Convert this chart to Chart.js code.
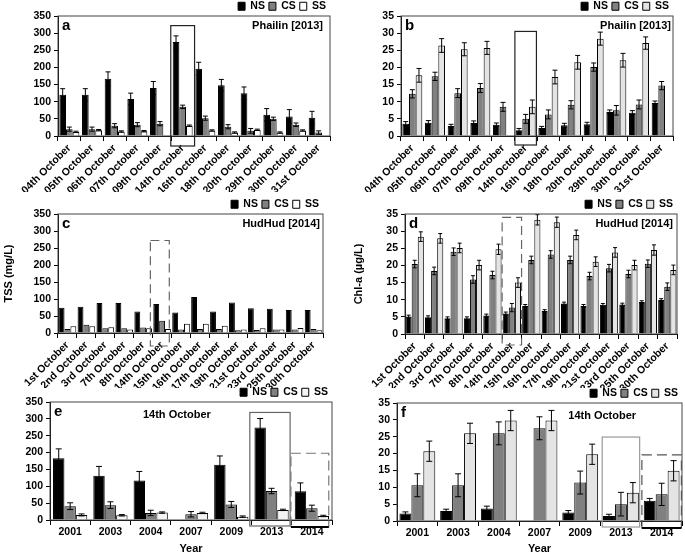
<!DOCTYPE html>
<html>
<head>
<meta charset="utf-8">
<script src="https://cdn.jsdelivr.net/npm/chart.js@4.4.1/dist/chart.umd.min.js"></script>
<style>
  body { margin: 0; background: #fff; width: 685px; height: 556px; position: relative; overflow: hidden; }
  canvas { position: absolute; }
</style>
</head>
<body>
<canvas id="a" width="335" height="195" style="left:0;top:-3px"></canvas>
<canvas id="b" width="345" height="195" style="left:340px;top:-3px"></canvas>
<canvas id="c" width="335" height="193" style="left:0;top:195px"></canvas>
<canvas id="d" width="345" height="193" style="left:340px;top:195px"></canvas>
<canvas id="e" width="340" height="173" style="left:0;top:383px"></canvas>
<canvas id="f" width="345" height="172" style="left:340px;top:384px"></canvas>
<script>
const seriesNames = ["NS", "CS", "SS"]

const phailinDays = ["04th October", "05th October", "06th October", "07th October", "09th October", "14th October",
  "16th October", "18th October", "20th October", "29th October", "30th October", "31st October"]
const hudhudDays = ["1st October", "2nd October", "3rd October", "7th October", "8th October", "14th October", "15th October",
  "16th October", "17th October", "19th October", "21st October", "23rd October", "25th October", "30th October"]
const years = ["2001", "2003", "2004", "2007", "2009", "2013", "2014"]

const tssTicks = [0, 50, 100, 150, 200, 250, 300, 350]
const chlTicks = [0, 5, 10, 15, 20, 25, 30, 35]

// a: TSS, Phailin 2013
const tssPhailinNS = [120, 120, 167, 108, 140, 274, 196, 148, 125, 62, 57, 53]
const tssPhailinNSErr = [18, 18, 20, 17, 19, 18, 19, 17, 18, 18, 20, 19]
const tssPhailinCS = [20, 20, 30, 33, 36, 85, 52, 27, 15, 50, 33, 10]
const tssPhailinCSErr = [6, 6, 6, 6, 6, 5, 6, 6, 7, 5, 5, 5]
const tssPhailinSS = [12, 17, 13, 14, null, 30, 16, 10, 18, 10, 16, null]
const tssPhailinSSErr = [2, 2, 2, 2, null, 2, 2, 2, 2, 2, 2, null]

// b: Chl-a, Phailin 2013
const chlPhailinNS = [3.6, 3.9, 2.9, 3.8, 3.3, 1.7, 2.3, 3.1, 3.4, 7.0, 6.8, 9.6]
const chlPhailinNSErr = [0.6, 0.6, 0.5, 0.6, 0.5, 0.5, 0.5, 0.6, 0.6, 0.6, 0.6, 0.6]
const chlPhailinCS = [12.3, 17.4, 12.5, 14.0, 8.5, 5.0, 6.3, 9.1, 20.1, 7.5, 9.2, 14.7]
const chlPhailinCSErr = [1.2, 1.2, 1.3, 1.3, 1.3, 1.3, 1.3, 1.2, 1.2, 1.4, 1.3, 1.2]
const chlPhailinSS = [17.7, 26.4, 25.3, 25.7, null, 8.5, 17.2, 21.5, 28.4, 22.1, 27.1, null]
const chlPhailinSSErr = [2.0, 2.0, 1.9, 1.9, null, 2.0, 2.0, 2.0, 1.9, 2.0, 1.8, null]

// c: TSS, HudHud 2014
const tssHudhudNS = [74, 77, 88, 88, 63, 85, 60, 106, 63, 90, 73, 71, 68, 68]
const tssHudhudCS = [12, 24, 14, 14, 16, 36, 10, 12, 12, 8, 9, 10, 10, 12]
const tssHudhudSS = [20, 20, 17, 10, 14, 12, 27, 27, 21, 10, 14, 10, 15, 8]

// d: Chl-a, HudHud 2014
const chlHudhudNS = [5.1, 4.9, 4.6, 4.6, 5.4, 6.0, 8.2, 6.7, 8.9, 8.2, 8.5, 8.6, 9.3, 9.9]
const chlHudhudNSErr = [0.4, 0.4, 0.4, 0.4, 0.4, 0.4, 0.4, 0.4, 0.4, 0.4, 0.4, 0.4, 0.4, 0.4]
const chlHudhudCS = [20.4, 18.4, 24.0, 15.9, 17.2, 7.7, 21.6, 23.2, 21.6, 16.9, 19.2, 17.5, 20.5, 13.8]
const chlHudhudCSErr = [1.1, 1.1, 1.1, 1.1, 1.1, 1.2, 1.1, 1.1, 1.1, 1.1, 1.1, 1.1, 1.1, 1.1]
const chlHudhudSS = [28.4, 27.9, 25.1, 20.1, 24.7, 15.0, 33.3, 32.6, 28.9, 21.1, 23.8, 20.1, 24.5, 18.7]
const chlHudhudSSErr = [1.4, 1.4, 1.4, 1.4, 1.5, 1.4, 1.5, 1.5, 1.4, 1.4, 1.4, 1.4, 1.5, 1.4]

// e: TSS on 14th October by year
const tssYearNS = [183, 131, 117, null, 164, 274, 85]
const tssYearNSErr = [28, 28, 27, null, 26, 27, 25]
const tssYearCS = [41, 44, 21, 17, 46, 86, 35]
const tssYearCSErr = [10, 10, 8, 8, 9, 8, 9]
const tssYearSS = [15, 14, 22, 21, 10, 30, 12]
const tssYearSSErr = [3, 2, 2, 2, 2, 2, 2]

// f: Chl-a on 14th October by year
const chlYearNS = [2.2, 3.0, 3.7, null, 2.5, 1.5, 6.0]
const chlYearNSErr = [0.5, 0.5, 0.7, null, 0.6, 0.5, 0.7]
const chlYearCS = [10.6, 10.6, 26.0, 27.5, 11.4, 5.0, 7.9]
const chlYearCSErr = [3.4, 3.4, 3.4, 3.4, 3.4, 3.5, 3.3]
const chlYearSS = [20.7, 26.0, 29.8, 29.8, 19.8, 8.4, 14.9]
const chlYearSSErr = [3, 3, 3, 3, 3, 3, 3]

const FONT = "'Liberation Sans', Arial, sans-serif"

// error bars, plot frame, highlight boxes, panel letter and storm note
const extras = {
  id: "extras",
  afterDatasetsDraw(chart, args, opts) {
    const { ctx, chartArea: area, scales: { x, y } } = chart
    ctx.save()
    chart.data.datasets.forEach((ds, i) => {
      if (!ds.err) return
      chart.getDatasetMeta(i).data.forEach((bar, j) => {
        const v = ds.data[j], e = ds.err[j]
        if (v == null || e == null) return
        const top = y.getPixelForValue(v + e)
        const bot = y.getPixelForValue(Math.max(v - e, 0))
        const cap = opts.cap
        ctx.strokeStyle = "#000"
        ctx.lineWidth = 1
        ctx.beginPath()
        ctx.moveTo(bar.x, top); ctx.lineTo(bar.x, bot)
        ctx.moveTo(bar.x - cap, top); ctx.lineTo(bar.x + cap, top)
        ctx.moveTo(bar.x - cap, bot); ctx.lineTo(bar.x + cap, bot)
        ctx.stroke()
      })
    })

    ctx.strokeStyle = "#444"
    ctx.lineWidth = 1
    ctx.strokeRect(area.left, area.top, area.width, area.height)

    const band = (x.right - x.left) / chart.data.labels.length
    ;(boxesById[chart.canvas.id] || []).forEach((b) => {
      const cx = x.getPixelForValue(b.index) + (b.nudge || 0) * band
      const l = cx - band * b.span / 2, r = cx + band * b.span / 2
      const t = y.getPixelForValue(b.top), bt = y.bottom + b.below
      ctx.strokeStyle = b.color
      ctx.lineWidth = 1.2
      ctx.setLineDash(b.dash || [])
      ctx.strokeRect(l, t, r - l, bt - t)
      ctx.setLineDash([])
      if (b.base) {
        ctx.strokeStyle = b.base
        ctx.lineWidth = 2
        ctx.beginPath(); ctx.moveTo(l, bt); ctx.lineTo(r, bt); ctx.stroke()
      }
    })

    ctx.fillStyle = "#000"
    ctx.textBaseline = "middle"
    ctx.font = `bold 15px ${FONT}`
    ctx.textAlign = "left"
    ctx.fillText(opts.letter, area.left + 4, area.top + 10)
    ctx.font = `bold 11px ${FONT}`
    if (opts.noteAt != null) {
      ctx.textAlign = "center"
      ctx.fillText(opts.note, area.left + area.width * opts.noteAt, area.top + 13)
    } else {
      ctx.textAlign = "right"
      ctx.fillText(opts.note, area.right - opts.noteInset, area.top + 10)
    }
    ctx.restore()
  }
}

// highlighted days / years: category index, top value, how far below the axis
const boxesById = {
  a: [{ index: 5, span: 1.05, top: 322, below: 10, color: "#222" }],
  b: [{ index: 5, span: 0.95, top: 30.5, below: 9, color: "#222" }],
  c: [{ index: 5, span: 1.0, nudge: -0.12, top: 272, below: 13, color: "#666", dash: [9, 5] }],
  d: [{ index: 5, span: 1.0, top: 34, below: 11, color: "#666", dash: [9, 5] }],
  e: [
    { index: 5, span: 1.0, nudge: -0.04, top: 319, below: 6, color: "#666" },
    { index: 6, span: 0.94, nudge: -0.05, top: 198, below: 7, color: "#777", dash: [10, 5], base: "#000" }
  ],
  f: [
    { index: 5, span: 0.92, top: 24.9, below: 6, color: "#999" },
    { index: 6, span: 0.97, top: 19.6, below: 7, color: "#555", dash: [10, 5], base: "#000" }
  ]
}

function makePanel(id, cfg) {
  const xFont = { family: FONT, weight: "bold", size: 10.5 }
  const yFont = { family: FONT, weight: "bold", size: 10.5 }
  const titleFont = { family: FONT, weight: "bold", size: 11 }
  new Chart(document.getElementById(id), {
    type: "bar",
    data: {
      labels: cfg.labels,
      datasets: cfg.series.map((s, i) => ({
        label: seriesNames[i],
        data: s[0],
        err: s[1],
        backgroundColor: cfg.colors[i],
        borderColor: "#000",
        borderWidth: 1,
        categoryPercentage: cfg.groupWidth,
        barPercentage: 1
      }))
    },
    options: {
      responsive: false,
      animation: false,
      layout: { padding: { left: cfg.padLeft || 0, right: cfg.padRight, top: 0, bottom: 0 } },
      plugins: {
        legend: {
          position: "top",
          align: "end",
          maxHeight: 19,
          labels: { boxWidth: 7, boxHeight: 8, padding: 4, color: "#000", font: { family: FONT, weight: "bold", size: 10.5 } }
        },
        tooltip: { enabled: false },
        extras: cfg.extras
      },
      scales: {
        x: {
          grid: { display: true, drawOnChartArea: false, offset: true, color: "#000", tickLength: 5 },
          border: { color: "#000" },
          ticks: { color: "#000", font: xFont, autoSkip: false, maxRotation: cfg.rotation, minRotation: cfg.rotation, padding: 1 },
          title: { display: !!cfg.xTitle, text: cfg.xTitle, color: "#000", font: titleFont, padding: { top: 0, bottom: 0 } },
          afterFit: (s) => { s.height = cfg.xHeight }
        },
        y: {
          min: 0,
          max: cfg.ticks[cfg.ticks.length - 1],
          afterBuildTicks: (s) => { s.ticks = cfg.ticks.map((v) => ({ value: v })) },
          grid: { display: true, drawOnChartArea: false, color: "#000", tickLength: 4 },
          border: { color: "#000" },
          ticks: { color: "#000", font: yFont, padding: 3 },
          title: { display: !!cfg.yTitle, text: cfg.yTitle, color: "#000", font: titleFont, padding: { top: 2, bottom: 2 } },
          afterFit: (s) => { s.width = cfg.yWidth }
        }
      }
    },
    plugins: [extras]
  })
}

const tssColors = ["#000000", "#808080", "#ffffff"]
const chlColors = ["#000000", "#808080", "#e4e4e4"]

makePanel("a", {
  labels: phailinDays, ticks: tssTicks, colors: tssColors, groupWidth: 0.88, rotation: 45,
  series: [[tssPhailinNS, tssPhailinNSErr], [tssPhailinCS, tssPhailinCSErr], [tssPhailinSS, tssPhailinSSErr]],
  yWidth: 58, xHeight: 56, padRight: 5,
  extras: { letter: "a", note: "Phailin [2013]", noteInset: 7, cap: 2.5 }
})

makePanel("b", {
  labels: phailinDays, ticks: chlTicks, colors: chlColors, groupWidth: 0.88, rotation: 45,
  series: [[chlPhailinNS, chlPhailinNSErr], [chlPhailinCS, chlPhailinCSErr], [chlPhailinSS, chlPhailinSSErr]],
  yWidth: 61, xHeight: 56, padRight: 12,
  extras: { letter: "b", note: "Phailin [2013]", noteInset: 2, cap: 2.5 }
})

makePanel("c", {
  labels: hudhudDays, ticks: tssTicks, colors: tssColors, groupWidth: 0.93, rotation: 45,
  series: [[tssHudhudNS], [tssHudhudCS], [tssHudhudSS]],
  yWidth: 58, xHeight: 55, padRight: 12, yTitle: "TSS (mg/L)",
  extras: { letter: "c", note: "HudHud [2014]", noteInset: 3, cap: 2 }
})

makePanel("d", {
  labels: hudhudDays, ticks: chlTicks, colors: chlColors, groupWidth: 0.94, rotation: 45,
  series: [[chlHudhudNS, chlHudhudNSErr], [chlHudhudCS, chlHudhudCSErr], [chlHudhudSS, chlHudhudSSErr]],
  yWidth: 55, padLeft: 10, xHeight: 54, padRight: 8, yTitle: "Chl-a (µg/L)",
  extras: { letter: "d", note: "HudHud [2014]", noteInset: 4, cap: 2 }
})

makePanel("e", {
  labels: years, ticks: tssTicks, colors: ["#000000", "#808080", "#f4f4f4"], groupWidth: 0.85, rotation: 0,
  series: [[tssYearNS, tssYearNSErr], [tssYearCS, tssYearCSErr], [tssYearSS, tssYearSSErr]],
  yWidth: 50, xHeight: 36, padRight: 8, xTitle: "Year",
  extras: { letter: "e", note: "14th October", noteAt: 0.45, cap: 3 }
})

makePanel("f", {
  labels: years, ticks: chlTicks, colors: chlColors, groupWidth: 0.88, rotation: 0,
  series: [[chlYearNS, chlYearNSErr], [chlYearCS, chlYearCSErr], [chlYearSS, chlYearSSErr]],
  yWidth: 57, xHeight: 35, padRight: 3, xTitle: "Year",
  extras: { letter: "f", note: "14th October", noteAt: 0.72, cap: 3 }
})
</script>
</body>
</html>
